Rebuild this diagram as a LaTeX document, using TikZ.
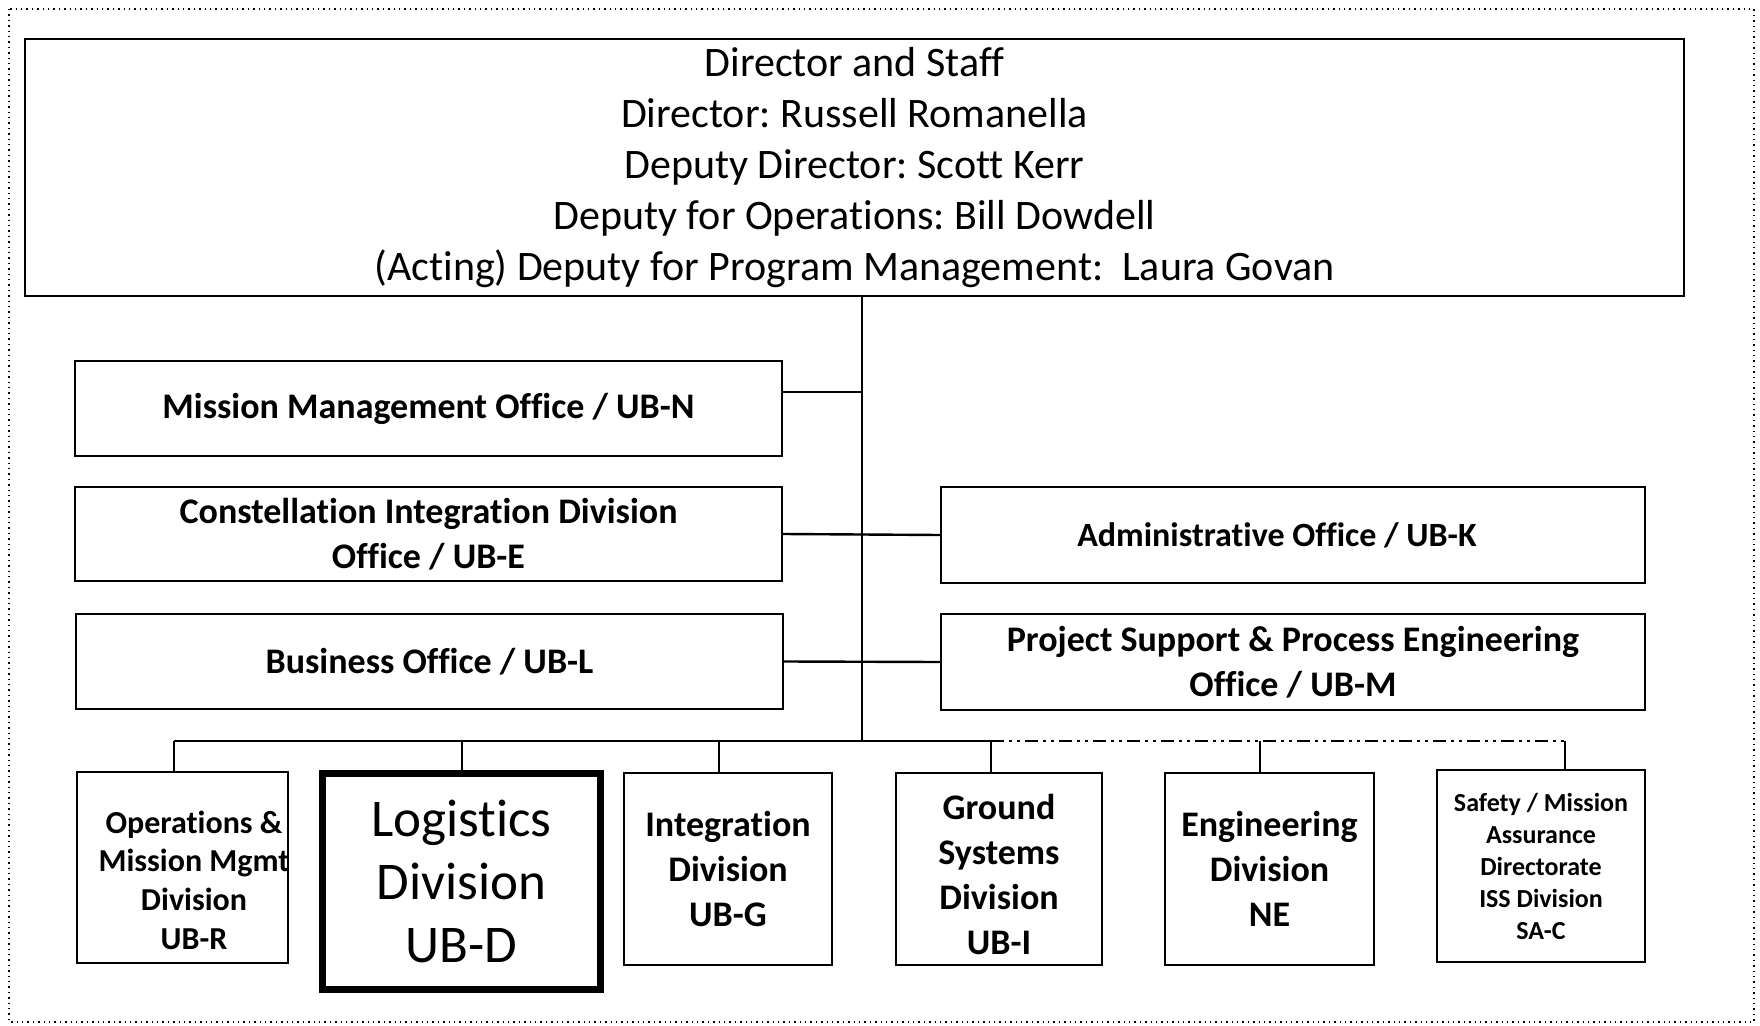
\documentclass[tikz,border=0pt]{standalone}
\usepackage{fontspec}
\setmainfont{Carlito}[Ligatures=NoCommon]
\frenchspacing
\begin{document}
\begin{tikzpicture}[x=0.5pt,y=-0.5pt,
  box/.style={draw=black, line width=1.1pt, inner sep=0pt, align=center, fill=white},
  bigbox/.style={box, line width=3.5pt},
  conn/.style={draw=black, line width=1.2pt},
  dconn/.style={draw=black, line width=1.2pt, dash pattern=on 6.5pt off 2.5pt on 1.5pt off 2.5pt on 1.5pt off 2.5pt},
  office/.style={box, font=\fontsize{18pt}{22.5pt}\selectfont\bfseries},
  divn/.style={box, font=\fontsize{18pt}{22.5pt}\selectfont\bfseries},
  plain/.style={inner sep=0pt, align=center}
]
\useasboundingbox (0,0) rectangle (1760,1026);
\draw[line width=0.7pt, dotted] (9,9) rectangle (1754,1022);

% Director
\node[box, minimum width=829.5pt, minimum height=128.5pt, font=\fontsize{21pt}{25.5pt}\selectfont] (dir) at (854.5,167.5)
 {Director and Staff\\ Director: Russell Romanella\\ Deputy Director: Scott Kerr\\ Deputy for Operations: Bill Dowdell\\ (Acting) Deputy for Program Management:\ \ Laura Govan};

% offices
\node[office, minimum width=353.5pt, minimum height=47.5pt] (mmo) at (428.5,408.5) {Mission Management Office / UB-N};
\node[office, minimum width=353.5pt, minimum height=47pt] (cid) at (428.5,534) {Constellation Integration Division\\ Office / UB-E};
\node[office, minimum width=353.5pt, minimum height=47.5pt] (bo) at (429.5,661.5) {Business Office / UB-L};
\node[office, minimum width=352pt, minimum height=48pt, font=\fontsize{17pt}{22.5pt}\selectfont\bfseries] (adm) at (1293,535) {\hspace*{-16pt}Administrative Office / UB-K};
\node[office, minimum width=352pt, minimum height=48pt] (ps) at (1293,662) {Project Support \& Process Engineering\\ Office / UB-M};

% divisions
\node[box, minimum width=105.5pt, minimum height=95.5pt] (ops) at (182.5,867.5) {};
\node[plain, font=\fontsize{16pt}{19.3pt}\selectfont\bfseries] (opst) at (194,880) {Operations \&\\ Mission Mgmt\\ Division\\ UB-R};
\node[bigbox, minimum width=139pt, minimum height=108pt, font=\fontsize{26.5pt}{31.5pt}\selectfont] (log) at (461.5,881.5) {Logistics\\ Division\\ UB-D};
\node[divn, minimum width=104pt, minimum height=96pt] (int) at (728,869) {Integration\\ Division\\ UB-G};
\node[box, minimum width=103pt, minimum height=96pt] (grd) at (999,869) {};
\node[plain, font=\fontsize{18pt}{22.5pt}\selectfont\bfseries] (grdt) at (999,874) {Ground\\ Systems\\ Division\\ UB-I};
\node[divn, minimum width=104.5pt, minimum height=96pt] (eng) at (1269.5,869) {Engineering\\ Division\\ NE};
\node[divn, minimum width=104pt, minimum height=96pt, font=\fontsize{13pt}{16pt}\selectfont\bfseries] (saf) at (1541,866) {Safety / Mission\\ Assurance\\ Directorate\\ ISS Division\\ SA-C};

% trunk
\coordinate (t0) at (862,296);
\coordinate (tb) at (862,741);
\draw[conn] (dir.south -| t0) -- (tb);
% office links
\coordinate (t1) at (862,392);
\draw[conn] (mmo.east |- t1) -- (t1);
\draw[conn] (cid.east) -- (adm.west);
\draw[conn] (bo.east) -- (ps.west);

% bus
\coordinate (b1) at (174,741);
\coordinate (b2) at (462,741);
\coordinate (b3) at (719,741);
\coordinate (b4) at (991,741);
\coordinate (b5) at (1260,741);
\coordinate (b6) at (1565,741);
\draw[conn] (b1) -- (b4);
\draw[dconn] (b4) -- (b6);
\draw[conn] (b1) -- (b1 |- ops.north);
\draw[conn] (b2) -- (b2 |- log.north);
\draw[conn] (b3) -- (b3 |- int.north);
\draw[conn] (b4) -- (b4 |- grd.north);
\draw[conn] (b5) -- (b5 |- eng.north);
\draw[conn] (b6) -- (b6 |- saf.north);
\end{tikzpicture}
\end{document}
